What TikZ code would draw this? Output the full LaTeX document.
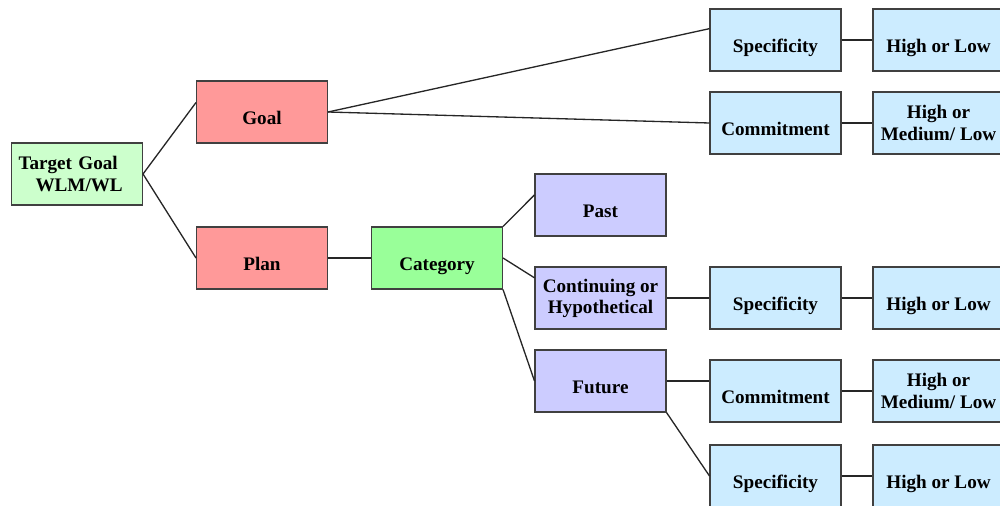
\documentclass[tikz,border=0pt]{standalone}
\usepackage{fontspec}
\setmainfont{Liberation Serif}
\usepackage{tikz}
\usetikzlibrary{positioning,calc}

\definecolor{goalred}{HTML}{FF9999}
\definecolor{targetgreen}{HTML}{CCFFCC}
\definecolor{catgreen}{HTML}{99FF99}
\definecolor{timepurple}{HTML}{CCCCFF}
\definecolor{detailblue}{HTML}{CCECFF}

\begin{document}
\begin{tikzpicture}[
    x=0.02cm, y=-0.02cm,
    box/.style={rectangle, draw=black!75, line width=0.6pt, minimum width=2.62cm, minimum height=1.24cm,
                align=center, font=\bfseries\fontsize{10.9}{12}\selectfont},
    oneline/.style={text height=17pt, text depth=2.5pt},
    edge/.style={draw, line width=0.75pt, color=black!85}
]

\clip (0,0) rectangle (1000,506);

% Define node positions
\node[box, fill=targetgreen, text width=2.34cm, inner xsep=0.14cm, align=left] (target) at (77,174)
    {Target Goal\\[1pt]\hspace*{0.34cm}WLM/WL};
\node[box, oneline, fill=goalred] (goal) at (262,112) {Goal};
\node[box, oneline, fill=goalred] (plan) at (262,258) {Plan};
\node[box, oneline, fill=catgreen] (cat) at (437,258) {Category};

\node[box, oneline, fill=timepurple] (past) at (600.5,205) {Past};
\node[box, fill=timepurple] (cont) at (600.5,298) {Continuing or\\Hypothetical};
\node[box, oneline, fill=timepurple] (future) at (600.5,381) {Future};

\node[box, oneline, fill=detailblue] (spec1) at (775.5,40) {Specificity};
\node[box, oneline, fill=detailblue] (comm1) at (775.5,123) {Commitment};
\node[box, oneline, fill=detailblue] (spec2) at (775.5,298) {Specificity};
\node[box, oneline, fill=detailblue] (comm2) at (775.5,391) {Commitment};
\node[box, oneline, fill=detailblue] (spec3) at (775.5,476) {Specificity};

\node[box, oneline, fill=detailblue] (hl1) at (938.5,40) {High or Low};
\node[box, fill=detailblue] (hm1) at (938.5,123) {High or\\Medium/ Low};
\node[box, oneline, fill=detailblue] (hl2) at (938.5,298) {High or Low};
\node[box, fill=detailblue] (hm2) at (938.5,391) {High or\\Medium/ Low};
\node[box, oneline, fill=detailblue] (hl3) at (938.5,476) {High or Low};

% Draw connectors
\draw[edge] (target.east) -- ($ (goal.north west)!0.35!(goal.south west) $);
\draw[edge] (target.east) -- (plan.west);
\draw[edge] (goal.east) -- ($ (spec1.north west)!0.32!(spec1.south west) $);
\draw[edge] (goal.east) -- (comm1.west);
\draw[edge] (spec1) -- (hl1);
\draw[edge] (comm1) -- (hm1);

\draw[edge] (plan) -- (cat);
\draw[edge] (cat.north east) -- ($ (past.north west)!0.34!(past.south west) $);
\draw[edge] (cat.east) -- ($ (cont.north west)!0.18!(cont.south west) $);
\draw[edge] (cat.south east) -- (future.west);

\draw[edge] (cont) -- (spec2);
\draw[edge] (spec2) -- (hl2);
\draw[edge] (future.east) -- (future.east -| comm2.west);
\draw[edge] (comm2) -- (hm2);
\draw[edge] (future.south east) -- (spec3.west);
\draw[edge] (spec3) -- (hl3);

\end{tikzpicture}
\end{document}
